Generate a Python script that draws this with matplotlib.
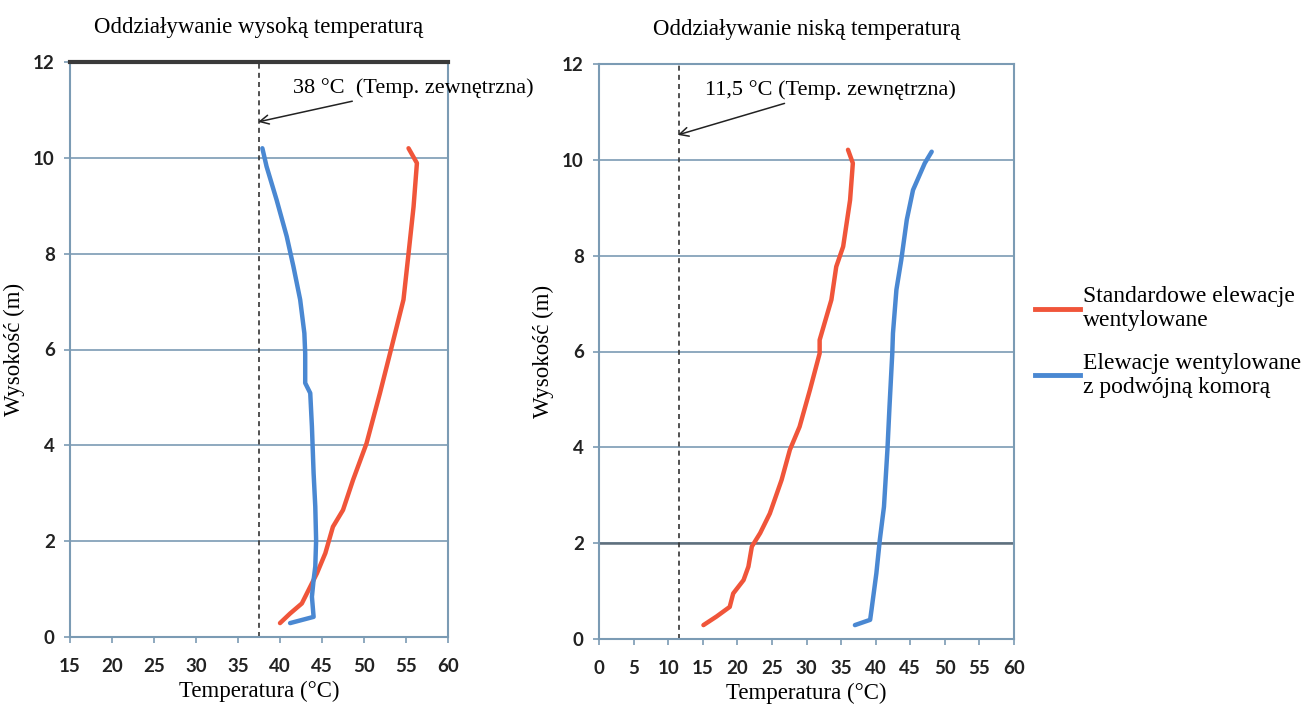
import matplotlib
matplotlib.use("Agg")
import matplotlib.pyplot as plt
from matplotlib.lines import Line2D

# ── data ────────────────────────────────────────────────────
# hot case (left panel)
hot_std_t = [55.3, 56.3, 55.9, 55.3, 54.7, 53.5, 53.3, 51.9, 50.3, 48.7,
             47.5, 46.3, 45.4, 44.4, 43.2, 42.6, 41.2, 40.0]
hot_std_h = [10.2, 9.89, 8.98, 8.0, 7.04, 6.2, 6.06, 5.09, 4.04, 3.28,
             2.65, 2.3, 1.75, 1.33, 0.91, 0.70, 0.49, 0.29]
hot_dbl_t = [37.9, 38.4, 39.6, 40.8, 41.6, 42.4, 42.9, 43.0, 43.0, 43.6,
             43.8, 44.0, 44.2, 44.3, 44.2, 44.0, 43.8, 44.0, 41.2]
hot_dbl_h = [10.2, 9.82, 9.12, 8.36, 7.73, 7.04, 6.34, 5.92, 5.30, 5.09,
             4.39, 3.42, 2.72, 2.02, 1.47, 1.19, 0.84, 0.42, 0.29]

# cold case (right panel)
cold_std_t = [36.0, 36.7, 36.3, 35.3, 34.3, 33.6, 31.9, 31.9, 30.5, 29.0,
              27.6, 26.4, 24.7, 23.3, 22.1, 21.6, 20.9, 19.4, 18.9, 17.0, 15.1]
cold_std_h = [10.21, 9.93, 9.16, 8.19, 7.77, 7.08, 6.24, 5.96, 5.2, 4.43,
              3.95, 3.32, 2.62, 2.21, 1.93, 1.51, 1.23, 0.95, 0.67, 0.47, 0.29]
cold_dbl_t = [48.1, 47.1, 45.4, 44.5, 43.7, 43.0, 42.5, 42.4, 42.0, 41.7,
              41.2, 40.6, 40.1, 39.4, 39.2, 37.0]
cold_dbl_h = [10.17, 9.93, 9.37, 8.75, 7.91, 7.29, 6.38, 5.96, 4.85, 3.95,
              2.76, 2.07, 1.37, 0.61, 0.40, 0.29]

outside_temp = [37.5, 11.5]
outside_label = ["38 °C  (Temp. zewnętrzna)", "11,5 °C (Temp. zewnętrzna)"]
titles = ["Oddziaływanie wysoką temperaturą", "Oddziaływanie niską temperaturą"]
x_ticks = [list(range(15, 61, 5)), list(range(0, 61, 5))]
y_ticks = list(range(0, 13, 2))
legend_labels = ["Standardowe elewacje\nwentylowane",
                 "Elewacje wentylowane\nz podwójną komorą"]

RED = "#f0553a"
BLUE = "#4a88d2"
FRAME = "#7b9bb4"
SERIF = "Liberation Serif"

fig = plt.figure(figsize=(13.08, 7.11), dpi=100)
ax_hot = fig.add_axes([70 / 1308, 1 - 637 / 711, 378 / 1308, 575 / 711])
ax_cold = fig.add_axes([599 / 1308, 1 - 639 / 711, 415 / 1308, 575 / 711])

panels = [
    (ax_hot, hot_std_t, hot_std_h, hot_dbl_t, hot_dbl_h),
    (ax_cold, cold_std_t, cold_std_h, cold_dbl_t, cold_dbl_h),
]

for i, (ax, st, sh, dt, dh) in enumerate(panels):
    ax.set_xlim(x_ticks[i][0], x_ticks[i][-1])
    ax.set_ylim(0, 12)
    ax.set_xticks(x_ticks[i])
    ax.set_yticks(y_ticks)
    ax.grid(axis="y", color=FRAME, linewidth=1.2)
    ax.set_axisbelow(True)
    for sp in ax.spines.values():
        sp.set_color(FRAME)
        sp.set_linewidth(1.5)
    ax.tick_params(direction="out", length=4, color=FRAME, width=1.2,
                   labelsize=13.5, pad=7)
    ax.tick_params(axis="x", pad=11)
    for lab in ax.get_xticklabels() + ax.get_yticklabels():
        lab.set_fontfamily("Lato")
        lab.set_fontweight("bold")
        lab.set_color("#222222")

    ax.plot(st, sh, color=RED, linewidth=3.2, solid_capstyle="round", zorder=3)
    ax.plot(dt, dh, color=BLUE, linewidth=3.2, solid_capstyle="round", zorder=3)

    ax.axvline(outside_temp[i], color="#333333", linewidth=1.2,
               linestyle=(0, (3, 2.5)), zorder=2)

    ax.set_title(titles[i], fontfamily=SERIF, fontsize=16.5, pad=21)
    ax.set_xlabel("Temperatura (°C)", fontfamily=SERIF, fontsize=16.5, labelpad=4)
    ax.set_ylabel("Wysokość (m)", fontfamily=SERIF, fontsize=16.5, labelpad=6)

# top border of the left panel is drawn heavier
ax_hot.spines["top"].set_color("#3a3a3a")
ax_hot.spines["top"].set_linewidth(3)
# the 2 m grid line of the right panel is darker
ax_cold.axhline(2, color="#5f6f7c", linewidth=1.8, zorder=1)

# annotations for outside temperature
ax_hot.annotate(outside_label[0], xy=(37.4, 10.75), xytext=(41.5, 11.46),
                fontfamily=SERIF, fontsize=16, va="center",
                arrowprops=dict(arrowstyle="->", color="#222222", lw=1.1,
                                shrinkA=2, shrinkB=0))
ax_cold.annotate(outside_label[1], xy=(11.4, 10.52), xytext=(15.3, 11.46),
                 fontfamily=SERIF, fontsize=16, va="center",
                 arrowprops=dict(arrowstyle="->", color="#222222", lw=1.1,
                                 shrinkA=2, shrinkB=0))

handles = [Line2D([], [], color=RED, linewidth=3.5),
           Line2D([], [], color=BLUE, linewidth=3.5)]
fig.legend(handles, legend_labels, loc="center left",
           bbox_to_anchor=(1026 / 1308, 1 - 342 / 711), frameon=False,
           prop={"family": SERIF, "size": 17}, handlelength=1.9,
           handletextpad=0.1, labelspacing=0.9, borderaxespad=0)

plt.savefig("out.png", dpi=100)
